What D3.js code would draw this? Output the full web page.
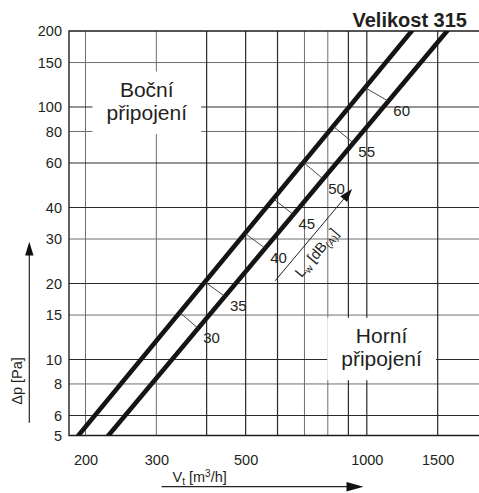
<!DOCTYPE html>
<html>
<head>
<meta charset="utf-8">
<script src="https://cdnjs.cloudflare.com/ajax/libs/d3/7.8.5/d3.min.js"></script>
<style>
  body { margin: 0; background: #fff; }
  svg { display: block; font-family: "Liberation Sans", Arial, sans-serif; }
</style>
</head>
<body>
<svg id="chart" width="479" height="493"></svg>
<script>
// axes: flow V_t [m3/h] (log) vs pressure drop dp [Pa] (log)
var xExtent = [182, 1900];
var yExtent = [5, 200];
var xTicks = [200, 300, 500, 1000, 1500];
var xGridMajor = [400, 500, 600, 900, 1000, 1500];
var xGridMinor = [200, 300, 700, 800];
var yTicks = [5, 6, 8, 10, 15, 20, 30, 40, 60, 80, 100, 150, 200];
var yGridMajor = [6, 10, 20, 40, 60, 100];
var yGridMinor = [8, 15, 30, 80, 150];

// characteristic lines [V, dp]
var sideLine = [[192, 5], [1293, 200]];   // Boční připojení
var topLine = [[228, 5], [1583, 200]];    // Horní připojení

// sound power level L_w [dB(A)]: flow where the mark meets each line
var lwLevels = [30, 35, 40, 45, 50, 55, 60];
var lwSideV = [343, 396, 498, 586, 696, 825, 990];
var lwTopV = [381, 444, 559, 657, 779, 926, 1131];
var lwArrow = [[592, 20.5], [919, 47.3]];

// labels [V, dp of first baseline]
var sideLabel = [284, 110];
var topLabel = [1088, 11.65];

var ink = "#231f20";
var svg = d3.select("#chart");
var margin = {top: 31, right: 0, bottom: 57.5, left: 69};
var width = 479 - margin.left - margin.right,
    height = 493 - margin.top - margin.bottom;

var x = d3.scaleLog().domain(xExtent).range([0, width]);
var y = d3.scaleLog().domain(yExtent).range([height, 0]);

// power law through the two points of a line
function lineP(ln, v) {
  var k = Math.log(ln[1][1] / ln[0][1]) / Math.log(ln[1][0] / ln[0][0]);
  return ln[0][1] * Math.pow(v / ln[0][0], k);
}
function lineV(ln, p) {
  var k = Math.log(ln[1][1] / ln[0][1]) / Math.log(ln[1][0] / ln[0][0]);
  return ln[0][0] * Math.pow(p / ln[0][1], 1 / k);
}

var g = svg.append("g")
    .attr("transform", "translate(" + margin.left + "," + margin.top + ")");

svg.append("defs").append("clipPath").attr("id", "plotClip")
  .append("rect").attr("width", width).attr("height", height);

// grid
var grid = g.append("g");
function vLines(vals, col, w) {
  grid.selectAll(null).data(vals).enter().append("line")
      .attr("x1", d => x(d)).attr("x2", d => x(d))
      .attr("y1", 0).attr("y2", height)
      .attr("stroke", col).attr("stroke-width", w);
}
function hLines(vals, col, w) {
  grid.selectAll(null).data(vals).enter().append("line")
      .attr("x1", 0).attr("x2", width)
      .attr("y1", d => y(d)).attr("y2", d => y(d))
      .attr("stroke", col).attr("stroke-width", w);
}
vLines(xGridMinor, "#6f6f6f", 1);
hLines(yGridMinor, "#6f6f6f", 1);
vLines(xGridMajor, "#2a2a2a", 1.2);
hLines(yGridMajor, "#2a2a2a", 1.2);

// frame (left, top, bottom)
g.append("path")
    .attr("d", "M" + width + ",0H0V" + height + "H" + width)
    .attr("fill", "none").attr("stroke", "#1e1e1e").attr("stroke-width", 1.4);

// axes labels
var yAxis = g.append("g")
    .call(d3.axisLeft(y).tickValues(yTicks).tickFormat(d3.format("d")).tickSize(0).tickPadding(7));
var xAxis = g.append("g")
    .attr("transform", "translate(0," + height + ")")
    .call(d3.axisBottom(x).tickValues(xTicks).tickFormat(d3.format("d")).tickSize(0).tickPadding(19.5));
[yAxis, xAxis].forEach(function(a) {
  a.select(".domain").remove();
  a.attr("font-family", null).attr("font-size", null);
  a.selectAll("text").style("font-size", "14.5px").attr("fill", ink);
});

// labelled areas with white background
function areaLabel(pos, lines) {
  var lg = g.append("g");
  var t = lg.append("text")
      .attr("text-anchor", "middle")
      .style("font-size", "21px")
      .attr("fill", ink);
  lines.forEach(function(s, i) {
    t.append("tspan")
        .attr("x", x(pos[0]))
        .attr("y", y(pos[1]) + i * 23.5)
        .text(s);
  });
  var bb = t.node().getBBox();
  lg.insert("rect", "text")
      .attr("x", bb.x - 14).attr("y", bb.y - 6)
      .attr("width", bb.width + 28).attr("height", bb.height + 16)
      .attr("fill", "#fff");
}
areaLabel(sideLabel, ["Boční", "připojení"]);
areaLabel(topLabel, ["Horní", "připojení"]);

// thick characteristic lines
var plot = g.append("g").attr("clip-path", "url(#plotClip)");
var line = d3.line().x(d => x(d[0])).y(d => y(d[1]));
[sideLine, topLine].forEach(function(ln) {
  var pts = [[lineV(ln, 4), 4], [lineV(ln, 260), 260]];
  plot.append("path")
      .attr("d", line(pts))
      .attr("fill", "none")
      .attr("stroke", "#141414")
      .attr("stroke-width", 4.6);
});

// L_w marks
lwLevels.forEach(function(lv, i) {
  var a = [lwSideV[i], lineP(sideLine, lwSideV[i])];
  var b = [lwTopV[i], lineP(topLine, lwTopV[i])];
  g.append("path")
      .attr("d", line([a, b]))
      .attr("stroke", "#333").attr("stroke-width", 0.9);
  g.append("text")
      .attr("x", x(b[0]) + 5)
      .attr("y", y(b[1]) + 14.5)
      .style("font-size", "15px")
      .attr("fill", ink)
      .text(lv);
});

// L_w arrow
var p0 = [x(lwArrow[0][0]), y(lwArrow[0][1])],
    p1 = [x(lwArrow[1][0]), y(lwArrow[1][1])];
var len = Math.hypot(p1[0] - p0[0], p1[1] - p0[1]);
var u = [(p1[0] - p0[0]) / len, (p1[1] - p0[1]) / len],
    n = [-u[1], u[0]];
var hb = [p1[0] - 13 * u[0], p1[1] - 13 * u[1]];
g.append("line")
    .attr("x1", p0[0]).attr("y1", p0[1]).attr("x2", hb[0]).attr("y2", hb[1])
    .attr("stroke", "#222").attr("stroke-width", 1);
g.append("path")
    .attr("d", "M" + p1 + "L" + [hb[0] + 4.5 * n[0], hb[1] + 4.5 * n[1]] +
               "L" + [hb[0] - 4.5 * n[0], hb[1] - 4.5 * n[1]] + "Z")
    .attr("fill", "#111");
var ang = Math.atan2(u[1], u[0]) * 180 / Math.PI;
var tc = [p0[0] + 48 * u[0] + 18.5 * n[0], p0[1] + 48 * u[1] + 18.5 * n[1]];
var lw = g.append("text")
    .attr("transform", "translate(" + tc + ") rotate(" + ang + ")")
    .attr("text-anchor", "middle")
    .style("font-size", "14.5px")
    .attr("fill", ink);
lw.append("tspan").text("L");
lw.append("tspan").attr("dy", 3).style("font-size", "10px").text("w");
lw.append("tspan").attr("dy", -3).text(" [dB");
lw.append("tspan").attr("dy", 3).style("font-size", "10px").text("(A)");
lw.append("tspan").attr("dy", -3).text("]");

// title
svg.append("text")
    .attr("x", 467).attr("y", 26.5)
    .attr("text-anchor", "end")
    .style("font-size", "20px").style("font-weight", "bold")
    .attr("fill", ink)
    .text("Velikost 315");

// y axis title with arrow
svg.append("text")
    .attr("transform", "translate(21.5,381) rotate(-90)")
    .attr("text-anchor", "middle")
    .style("font-size", "14.5px")
    .attr("fill", ink)
    .text("Δp [Pa]");
svg.append("line")
    .attr("x1", 29.3).attr("x2", 29.3).attr("y1", 422.7).attr("y2", 254)
    .attr("stroke", "#222").attr("stroke-width", 1.2);
svg.append("path").attr("d", "M29.3,241.7L33.5,255.5L25.1,255.5Z").attr("fill", "#111");

// x axis title with arrow
var xt = svg.append("text")
    .attr("x", 172.5).attr("y", 482)
    .style("font-size", "14.5px")
    .attr("fill", ink);
xt.append("tspan").text("V");
xt.append("tspan").attr("dy", 3).style("font-size", "10px").text("t");
xt.append("tspan").attr("dy", -3).text(" [m");
xt.append("tspan").attr("dy", -5).style("font-size", "10px").text("3");
xt.append("tspan").attr("dy", 5).text("/h]");
svg.append("line")
    .attr("x1", 161.7).attr("x2", 348).attr("y1", 486.7).attr("y2", 486.7)
    .attr("stroke", "#222").attr("stroke-width", 1.2);
svg.append("path").attr("d", "M363.5,486.7L346.5,482L346.5,491.4Z").attr("fill", "#111");
</script>
</body>
</html>
